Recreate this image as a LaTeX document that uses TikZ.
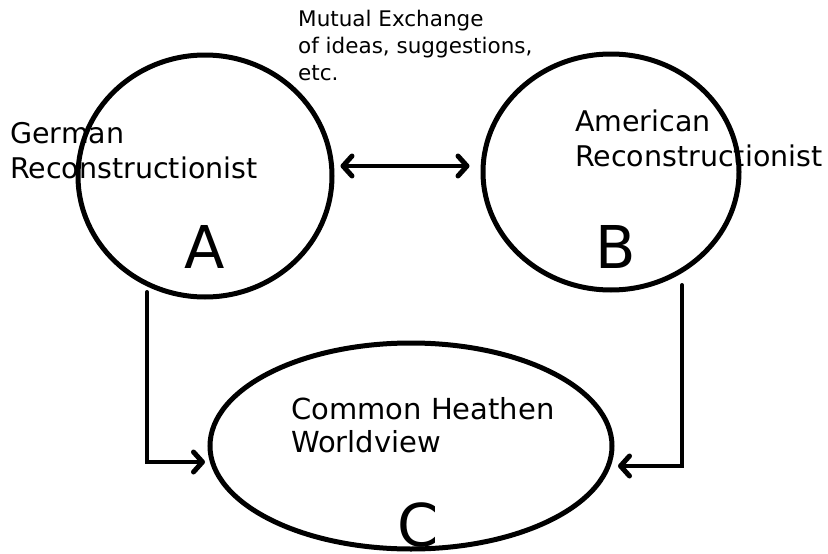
\documentclass[tikz,border=0pt]{standalone}
\usepackage{fontspec}
\setmainfont{DejaVu Sans}
\usetikzlibrary{shapes.geometric,arrows.meta}
\begin{document}
\begin{tikzpicture}[x=1pt,y=-1pt,
  blob/.style={draw,ellipse,line width=5pt,inner sep=0pt},
  tipb/.tip={Straight Barb[length=9pt,width=20pt,line width=5pt,line cap=round,line join=round]},
  conn/.style={line width=4pt,line cap=round,line join=miter},
  lbl/.style={inner sep=0pt,align=left,anchor=base west},
  small/.style={font=\fontsize{21.5}{27}\selectfont},
  mid/.style={font=\fontsize{28.5}{35}\selectfont},
  big/.style={inner sep=0pt,anchor=base,font=\fontsize{59}{60}\selectfont}]
\useasboundingbox[fill=white] (0,0) rectangle (828,554);
% ellipses
\node[blob,minimum width=254pt,minimum height=242pt] (A) at (205,176) {};
\node[blob,minimum width=256pt,minimum height=236pt] (B) at (611,172) {};
\node[blob,minimum width=402pt,minimum height=206pt] (C) at (411,446) {};
% texts
\node[lbl,small] (mx) at (298,80) {Mutual Exchange\\of ideas, suggestions,\\etc.};
\node[lbl,mid] (ger) at (10,178) {German\\Reconstructionist};
\node[lbl,mid] (ame) at (575,166) {American\\Reconstructionist};
\node[lbl,font=\fontsize{29}{33}\selectfont] (chw) at (291,452) {Common Heathen\\Worldview};
\node[big] (la) at (205,268) {A};
\node[big] (lb) at (616,268) {B};
\node[big] (lc) at (418,546) {C};
% connectors
\draw[conn,tipb-tipb] ([shift={(6,-10)}]A.east) -- ([shift={(-11,-6)}]B.west);
\coordinate (a1) at (147,292);
\coordinate (c1) at (205,462);
\coordinate (b1) at (682,285);
\coordinate (c2) at (618,466);
\draw[conn,-tipb] (a1) |- (c1);
\draw[conn,-tipb] (b1) |- (c2);
\end{tikzpicture}
\end{document}
